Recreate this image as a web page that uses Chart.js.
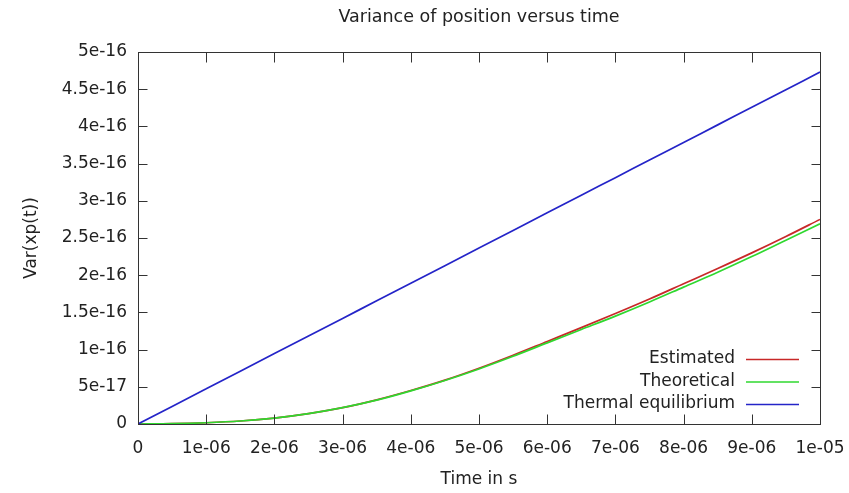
<!DOCTYPE html>
<html>
<head>
<meta charset="utf-8">
<script src="https://cdn.jsdelivr.net/npm/chart.js@4/dist/chart.umd.min.js"></script>
<style>
  html, body { margin: 0; padding: 0; background: #fff; }
  #wrap { width: 849px; height: 493px; }
</style>
</head>
<body>
<div id="wrap"><canvas id="varChart" width="849" height="493"></canvas></div>
<script>
// time samples (s)
const timeValues = [0, 0.5e-6, 1e-6, 1.5e-6, 2e-6, 2.5e-6, 3e-6, 3.5e-6, 4e-6, 4.5e-6, 5e-6,
  5.5e-6, 6e-6, 6.5e-6, 7e-6, 7.5e-6, 8e-6, 8.5e-6, 9e-6, 9.5e-6, 1e-5];

// series
const estimated = [0, 4e-19, 1.7e-18, 4e-18, 8e-18, 1.4e-17, 2.2e-17, 3.25e-17, 4.5e-17, 5.9e-17, 7.5e-17,
  9.25e-17, 1.11e-16, 1.295e-16, 1.485e-16, 1.68e-16, 1.885e-16, 2.09e-16, 2.3e-16, 2.52e-16, 2.75e-16];
const theoretical = [0, 4e-19, 1.7e-18, 4e-18, 8e-18, 1.4e-17, 2.2e-17, 3.2e-17, 4.45e-17, 5.85e-17, 7.4e-17,
  9.1e-17, 1.09e-16, 1.27e-16, 1.45e-16, 1.64e-16, 1.84e-16, 2.04e-16, 2.25e-16, 2.47e-16, 2.69e-16];
const thermal = [0, 2.365e-17, 4.73e-17, 7.095e-17, 9.46e-17, 1.1825e-16, 1.419e-16, 1.6555e-16, 1.892e-16, 2.1285e-16, 2.365e-16,
  2.6015e-16, 2.838e-16, 3.0745e-16, 3.311e-16, 3.5475e-16, 3.784e-16, 4.0205e-16, 4.257e-16, 4.4935e-16, 4.73e-16];

const seriesNames = ["Estimated", "Theoretical", "Thermal equilibrium"];

// tick values + labels
const xTickValues = [0, 1e-6, 2e-6, 3e-6, 4e-6, 5e-6, 6e-6, 7e-6, 8e-6, 9e-6, 1e-5];
const xTickLabels = ["0", "1e-06", "2e-06", "3e-06", "4e-06", "5e-06", "6e-06", "7e-06", "8e-06", "9e-06", "1e-05"];
const yTickValues = [0, 5e-17, 1e-16, 1.5e-16, 2e-16, 2.5e-16, 3e-16, 3.5e-16, 4e-16, 4.5e-16, 5e-16];
const yTickLabels = ["0", "5e-17", "1e-16", "1.5e-16", "2e-16", "2.5e-16", "3e-16", "3.5e-16", "4e-16", "4.5e-16", "5e-16"];

const FONT = "'DejaVu Sans', sans-serif";
const FONT_SIZE = 17;
const TEXT = "#222";

const toPoints = ys => ys.map((y, i) => ({ x: timeValues[i], y }));

/* ── gnuplot-ish frame, inward ticks, titles, legend ─────────*/
const gnuFrame = {
  id: "gnuFrame",
  afterDraw(chart) {
    const { ctx, chartArea: a, scales } = chart;
    const L = Math.round(a.left) + 0.5, R = Math.round(a.right) + 0.5;
    const T = Math.round(a.top) + 0.5, B = Math.round(a.bottom) + 0.5;
    ctx.save();
    ctx.strokeStyle = "#333";
    ctx.lineWidth = 1;
    ctx.strokeRect(L, T, R - L, B - T);

    ctx.beginPath();
    xTickValues.forEach(v => {
      const px = Math.round(scales.x.getPixelForValue(v)) + 0.5;
      ctx.moveTo(px, B); ctx.lineTo(px, B - 10);
      ctx.moveTo(px, T); ctx.lineTo(px, T + 10);
    });
    yTickValues.forEach(v => {
      const py = Math.round(scales.y.getPixelForValue(v)) + 0.5;
      ctx.moveTo(L, py); ctx.lineTo(L + 9, py);
      ctx.moveTo(R, py); ctx.lineTo(R - 9, py);
    });
    ctx.stroke();

    // titles
    ctx.fillStyle = TEXT;
    ctx.textAlign = "center";
    ctx.textBaseline = "middle";
    const cx = (a.left + a.right) / 2;
    ctx.font = `17.5px ${FONT}`;
    ctx.fillText("Variance of position versus time", cx, 17);
    ctx.font = `${FONT_SIZE}px ${FONT}`;
    ctx.fillText("Time in s", cx, 480);
    ctx.save();
    ctx.translate(32, (a.top + a.bottom) / 2);
    ctx.rotate(-Math.PI / 2);
    ctx.fillText("Var(xp(t))", 0, 0);
    ctx.restore();

    // legend: text right-aligned, sample line after it
    ctx.textAlign = "right";
    chart.data.datasets.forEach((ds, i) => {
      const y = a.bottom - 65 + i * 22.5;
      ctx.fillStyle = TEXT;
      ctx.fillText(ds.label, a.right - 85, y);
      ctx.strokeStyle = ds.borderColor;
      ctx.lineWidth = 1.6;
      ctx.beginPath();
      ctx.moveTo(a.right - 74, y + 0.5);
      ctx.lineTo(a.right - 21, y + 0.5);
      ctx.stroke();
    });
    ctx.restore();
  }
};

new Chart(document.getElementById("varChart"), {
  type: "line",
  data: {
    datasets: [
      { label: seriesNames[0], data: toPoints(estimated), borderColor: "#c82828", order: 3 },
      { label: seriesNames[1], data: toPoints(theoretical), borderColor: "#2fd82f", order: 2 },
      { label: seriesNames[2], data: toPoints(thermal), borderColor: "#2424c8", order: 1 }
    ]
  },
  options: {
    responsive: false,
    animation: false,
    parsing: false,
    layout: { padding: { left: 0, top: 52, right: 29, bottom: 0 } },
    elements: {
      point: { radius: 0 },
      line: { borderWidth: 1.7, tension: 0.4, cubicInterpolationMode: "monotone", fill: false }
    },
    scales: {
      x: {
        type: "linear", min: 0, max: 1e-5,
        afterBuildTicks: s => { s.ticks = xTickValues.map(v => ({ value: v })); },
        afterFit: s => { s.height = 69; s.paddingLeft = 0; s.paddingRight = 0; },
        ticks: {
          autoSkip: false, maxRotation: 0, padding: 14, color: TEXT,
          font: { family: FONT, size: FONT_SIZE },
          callback: (v, i) => xTickLabels[i]
        },
        grid: { display: false, drawTicks: false },
        border: { display: false }
      },
      y: {
        type: "linear", min: 0, max: 5e-16,
        afterBuildTicks: s => { s.ticks = yTickValues.map(v => ({ value: v })); },
        afterFit: s => { s.width = 138; s.paddingTop = 0; s.paddingBottom = 0; },
        ticks: {
          autoSkip: false, padding: 11, color: TEXT,
          font: { family: FONT, size: FONT_SIZE },
          callback: (v, i) => yTickLabels[i]
        },
        grid: { display: false, drawTicks: false },
        border: { display: false }
      }
    },
    plugins: { legend: { display: false }, tooltip: { enabled: false }, title: { display: false } }
  },
  plugins: [gnuFrame]
});
</script>
</body>
</html>
